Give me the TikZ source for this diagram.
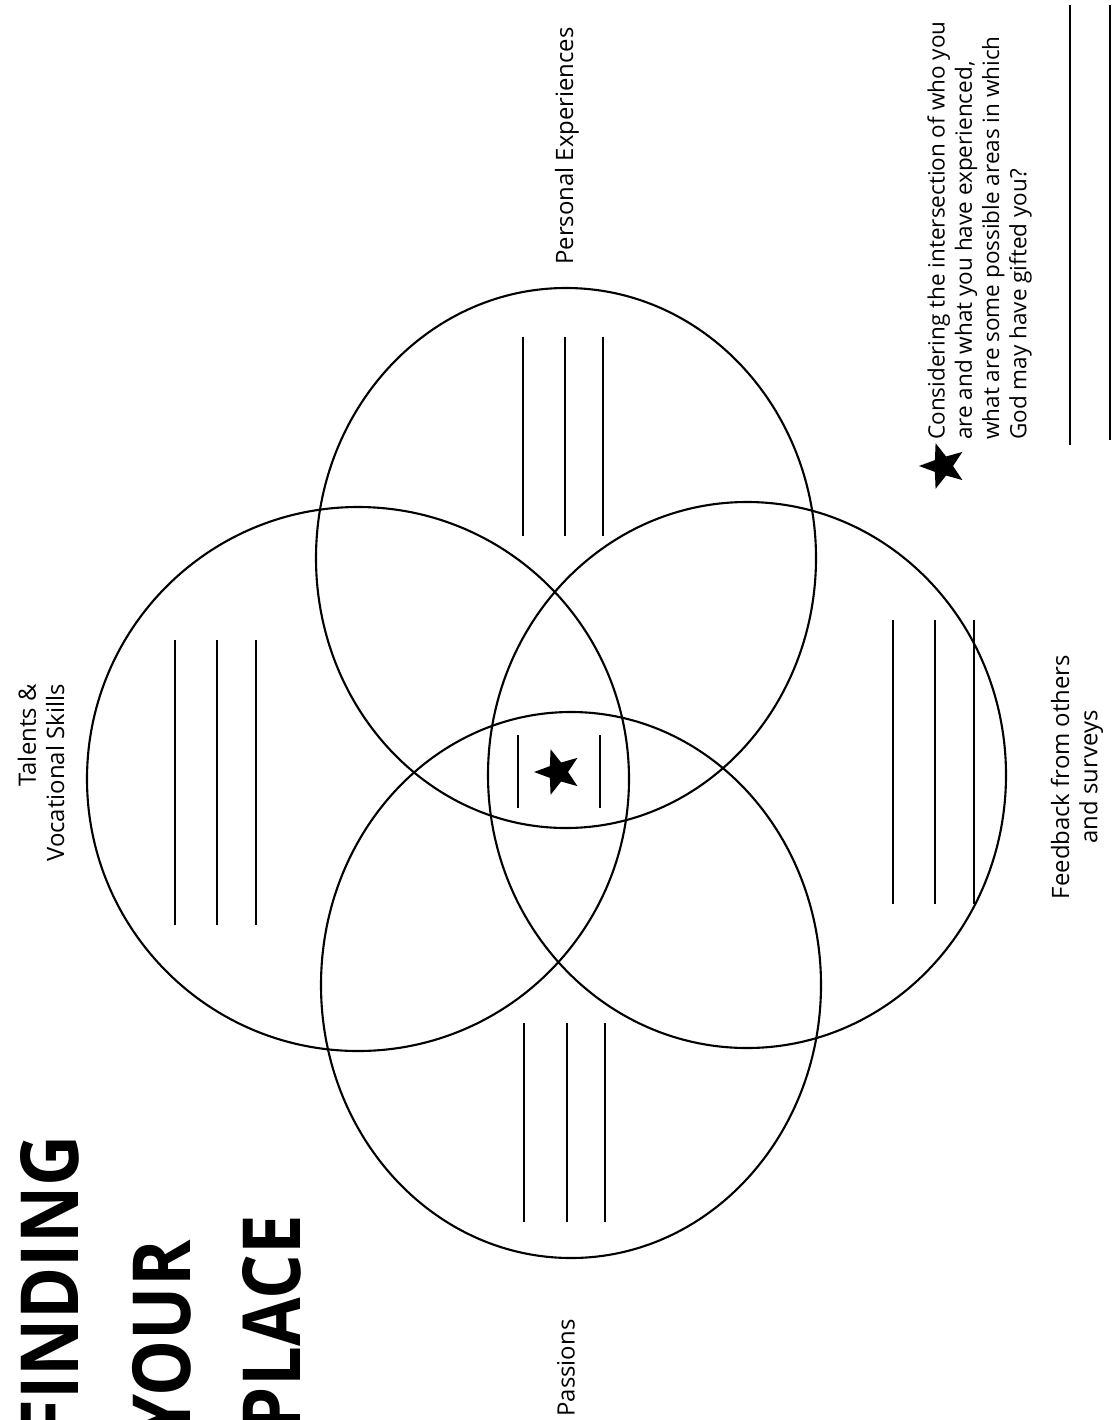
\documentclass[tikz,border=0pt]{standalone}
\usepackage{fontspec}
\setmainfont{Open Sans}
\newfontfamily\titlefont[FakeStretch=0.88]{Open Sans}
\usetikzlibrary{shapes.geometric}

\tikzset{
  ring/.style={line width=1.5pt},
  blank/.style={line width=1.4pt},
  circtext/.style={rotate=90,inner sep=0pt,font=\fontsize{17}{20}\selectfont},
  titleword/.style={rotate=90,inner sep=0pt,anchor=base east,font=\titlefont\bfseries\fontsize{57}{60}\selectfont},
  starmark/.style={star,star points=5,star point ratio=2.4,fill=black,rotate=90,minimum size=1.2cm,inner sep=0pt}
}

\begin{document}
\begin{tikzpicture}[x=0.025cm,y=-0.025cm]
\useasboundingbox (0,0) rectangle (1112,1420);
\clip (0,0) rectangle (1112,1420);

% the four circles
\draw[ring] (566,558) ellipse [x radius=250,y radius=270];
\draw[ring] (358,779) ellipse [x radius=271,y radius=272];
\draw[ring] (747,775) ellipse [x radius=259,y radius=273];
\draw[ring] (571,985) ellipse [x radius=250,y radius=273];

% lines to write on
\draw[blank] (523,337) -- (523,536) (565,337) -- (565,536) (603,337) -- (603,536);
\draw[blank] (175,640) -- (175,925) (217,640) -- (217,925) (256,640) -- (256,925);
\draw[blank] (893,620) -- (893,904) (935,620) -- (935,904) (974,620) -- (974,904);
\draw[blank] (524,1023) -- (524,1222) (567,1023) -- (567,1222) (605,1023) -- (605,1222);
\draw[blank] (518,735) -- (518,808) (600,735) -- (600,808);
\draw[blank] (1070,5) -- (1070,445) (1110,5) -- (1110,440);

\node[starmark] (midstar) at (558,772) {};
\node[starmark] (keystar) at (943,466) {};

\node[circtext] (personal) at (567,146) {Personal Experiences};
\node[circtext,align=right] (talents) at (41,773) {Talents \&\\Vocational Skills};
\node[circtext,align=center] (feedback) at (1077,777) {Feedback from others\\and surveys};
\node[circtext] (passions) at (566,1368) {Passions};

\node[circtext,align=left,anchor=north west,font=\fontsize{16}{19.4}\selectfont] (question) at (927,440)
  {Considering the intersection of who you\\are and what you have experienced,\\what are some possible areas in which\\God may have gifted you?};

\node[titleword] (finding) at (78,1135) {FINDING};
\node[titleword] (your) at (190,1240) {YOUR};
\node[titleword] (place) at (300,1215) {PLACE};
\end{tikzpicture}
\end{document}
